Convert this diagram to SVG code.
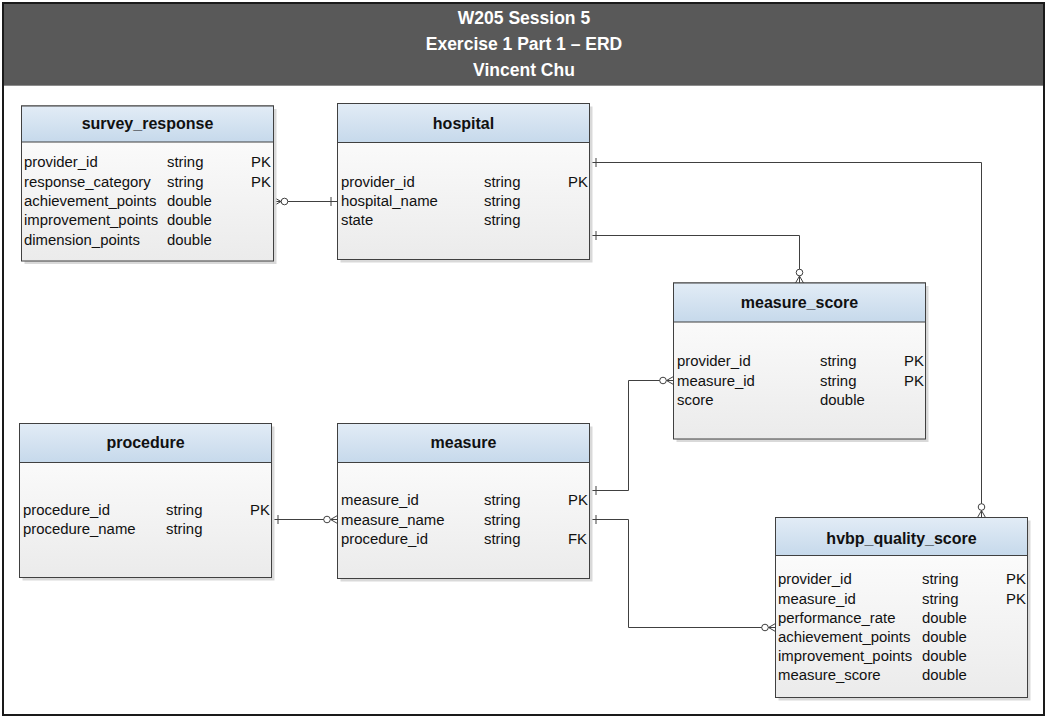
<svg xmlns="http://www.w3.org/2000/svg" width="1049" height="719" viewBox="0 0 1049 719">
<defs>
<linearGradient id="hdr" x1="0" y1="0" x2="0" y2="1">
<stop offset="0" stop-color="#e2ecf6"/>
<stop offset="1" stop-color="#c6d9eb"/>
</linearGradient>
<linearGradient id="body" x1="0" y1="0" x2="0" y2="1">
<stop offset="0" stop-color="#ffffff"/>
<stop offset="1" stop-color="#ebebeb"/>
</linearGradient>
<marker id="one" markerUnits="userSpaceOnUse" markerWidth="30" markerHeight="30" refX="0" refY="0" orient="auto-start-reverse" overflow="visible">
<path d="M-6.5,-4.5 V4.5" stroke="#404040" stroke-width="1" fill="none"/>
</marker>
<marker id="many" markerUnits="userSpaceOnUse" markerWidth="30" markerHeight="30" refX="0" refY="0" orient="auto-start-reverse" overflow="visible">
<path d="M0,-4 L-7,0 L0,4 M0,0 H-7" stroke="#404040" stroke-width="1" fill="none"/>
<circle cx="-10.5" cy="0" r="3.3" fill="#ffffff" stroke="#404040" stroke-width="1"/>
</marker>
</defs>
<style>
.frame{fill:#ffffff;stroke:#1a1a1a;stroke-width:2}
.band{fill:#595959}
.ttl{font-family:"Liberation Sans",Arial,sans-serif;font-weight:bold;font-size:17.5px;fill:#ffffff;text-anchor:middle}
.shadow{fill:#d9d9d9}
.hd{fill:url(#hdr);stroke:#404040;stroke-width:1}
.bd{fill:url(#body);stroke:#404040;stroke-width:1}
.tn{font-family:"Liberation Sans",Arial,sans-serif;font-weight:bold;font-size:16px;fill:#111111;text-anchor:middle}
.f{font-family:"Liberation Sans",Arial,sans-serif;font-size:14.9px;fill:#111111}
.cn{fill:none;stroke:#404040;stroke-width:1}
</style>
<rect class="frame" x="3" y="3" width="1041" height="712"/>
<rect class="band" x="4" y="4" width="1039" height="81"/>
<line x1="4" y1="85.5" x2="1043" y2="85.5" stroke="#8c8c8c" stroke-width="1"/>
<g id="title">
<text class="ttl" x="524" y="23.5">W205 Session 5</text>
<text class="ttl" x="524" y="50">Exercise 1 Part 1 – ERD</text>
<text class="ttl" x="524" y="76">Vincent Chu</text>
</g>
<g id="connectors">
<path class="cn" d="M274,201.5 H337.5" marker-start="url(#many)" marker-end="url(#one)"/>
<path class="cn" d="M589.5,162.5 H981.5 V517.5" marker-start="url(#one)" marker-end="url(#many)"/>
<path class="cn" d="M589.5,235.5 H799.5 V283" marker-start="url(#one)" marker-end="url(#many)"/>
<path class="cn" d="M589.5,490.5 H628.5 V380.5 H673.5" marker-start="url(#one)" marker-end="url(#many)"/>
<path class="cn" d="M271.5,519.5 H337.5" marker-start="url(#one)" marker-end="url(#many)"/>
<path class="cn" d="M589.5,519.5 H628.5 V627.5 H775.5" marker-start="url(#one)" marker-end="url(#many)"/>
</g>
<g id="survey_response">
<rect class="shadow" x="24.5" y="109" width="252" height="155"/>
<rect class="bd" x="21.5" y="106" width="252" height="155"/>
<rect class="hd" x="21.5" y="106" width="252" height="36"/>
<text class="tn" x="147.5" y="128.5">survey_response</text>
<text class="f" x="24" y="167">provider_id</text><text class="f" x="167" y="167">string</text><text class="f" x="251" y="167">PK</text>
<text class="f" x="24" y="186.5">response_category</text><text class="f" x="167" y="186.5">string</text><text class="f" x="251" y="186.5">PK</text>
<text class="f" x="24" y="206">achievement_points</text><text class="f" x="167" y="206">double</text>
<text class="f" x="24" y="225">improvement_points</text><text class="f" x="167" y="225">double</text>
<text class="f" x="24" y="244.5">dimension_points</text><text class="f" x="167" y="244.5">double</text>
</g>
<g id="hospital">
<rect class="shadow" x="340.5" y="106.5" width="252" height="156"/>
<rect class="bd" x="337.5" y="103.5" width="252" height="156"/>
<rect class="hd" x="337.5" y="103.5" width="252" height="39"/>
<text class="tn" x="463.5" y="129">hospital</text>
<text class="f" x="341" y="186.5">provider_id</text><text class="f" x="484" y="186.5">string</text><text class="f" x="568" y="186.5">PK</text>
<text class="f" x="341" y="206">hospital_name</text><text class="f" x="484" y="206">string</text>
<text class="f" x="341" y="225">state</text><text class="f" x="484" y="225">string</text>
</g>
<g id="measure_score">
<rect class="shadow" x="676.5" y="286" width="252" height="156"/>
<rect class="bd" x="673.5" y="283" width="252" height="156"/>
<rect class="hd" x="673.5" y="283" width="252" height="39"/>
<text class="tn" x="799.5" y="308">measure_score</text>
<text class="f" x="677" y="366">provider_id</text><text class="f" x="820" y="366">string</text><text class="f" x="904" y="366">PK</text>
<text class="f" x="677" y="385.5">measure_id</text><text class="f" x="820" y="385.5">string</text><text class="f" x="904" y="385.5">PK</text>
<text class="f" x="677" y="405">score</text><text class="f" x="820" y="405">double</text>
</g>
<g id="procedure">
<rect class="shadow" x="22.5" y="426.5" width="252" height="154"/>
<rect class="bd" x="19.5" y="423.5" width="252" height="154"/>
<rect class="hd" x="19.5" y="423.5" width="252" height="39"/>
<text class="tn" x="145.5" y="448">procedure</text>
<text class="f" x="23" y="515">procedure_id</text><text class="f" x="166" y="515">string</text><text class="f" x="250" y="515">PK</text>
<text class="f" x="23" y="534">procedure_name</text><text class="f" x="166" y="534">string</text>
</g>
<g id="measure">
<rect class="shadow" x="340.5" y="426.5" width="252" height="155"/>
<rect class="bd" x="337.5" y="423.5" width="252" height="155"/>
<rect class="hd" x="337.5" y="423.5" width="252" height="39"/>
<text class="tn" x="463.5" y="448">measure</text>
<text class="f" x="341" y="505">measure_id</text><text class="f" x="484" y="505">string</text><text class="f" x="568" y="505">PK</text>
<text class="f" x="341" y="524.5">measure_name</text><text class="f" x="484" y="524.5">string</text>
<text class="f" x="341" y="544">procedure_id</text><text class="f" x="484" y="544">string</text><text class="f" x="568" y="544">FK</text>
</g>
<g id="hvbp_quality_score">
<rect class="shadow" x="778.5" y="520.5" width="252" height="180"/>
<rect class="bd" x="775.5" y="517.5" width="252" height="180"/>
<rect class="hd" x="775.5" y="517.5" width="252" height="38"/>
<text class="tn" x="901.5" y="543.5">hvbp_quality_score</text>
<text class="f" x="778" y="584">provider_id</text><text class="f" x="922" y="584">string</text><text class="f" x="1006" y="584">PK</text>
<text class="f" x="778" y="603.5">measure_id</text><text class="f" x="922" y="603.5">string</text><text class="f" x="1006" y="603.5">PK</text>
<text class="f" x="778" y="622.5">performance_rate</text><text class="f" x="922" y="622.5">double</text>
<text class="f" x="778" y="641.5">achievement_points</text><text class="f" x="922" y="641.5">double</text>
<text class="f" x="778" y="660.5">improvement_points</text><text class="f" x="922" y="660.5">double</text>
<text class="f" x="778" y="680">measure_score</text><text class="f" x="922" y="680">double</text>
</g>
</svg>
